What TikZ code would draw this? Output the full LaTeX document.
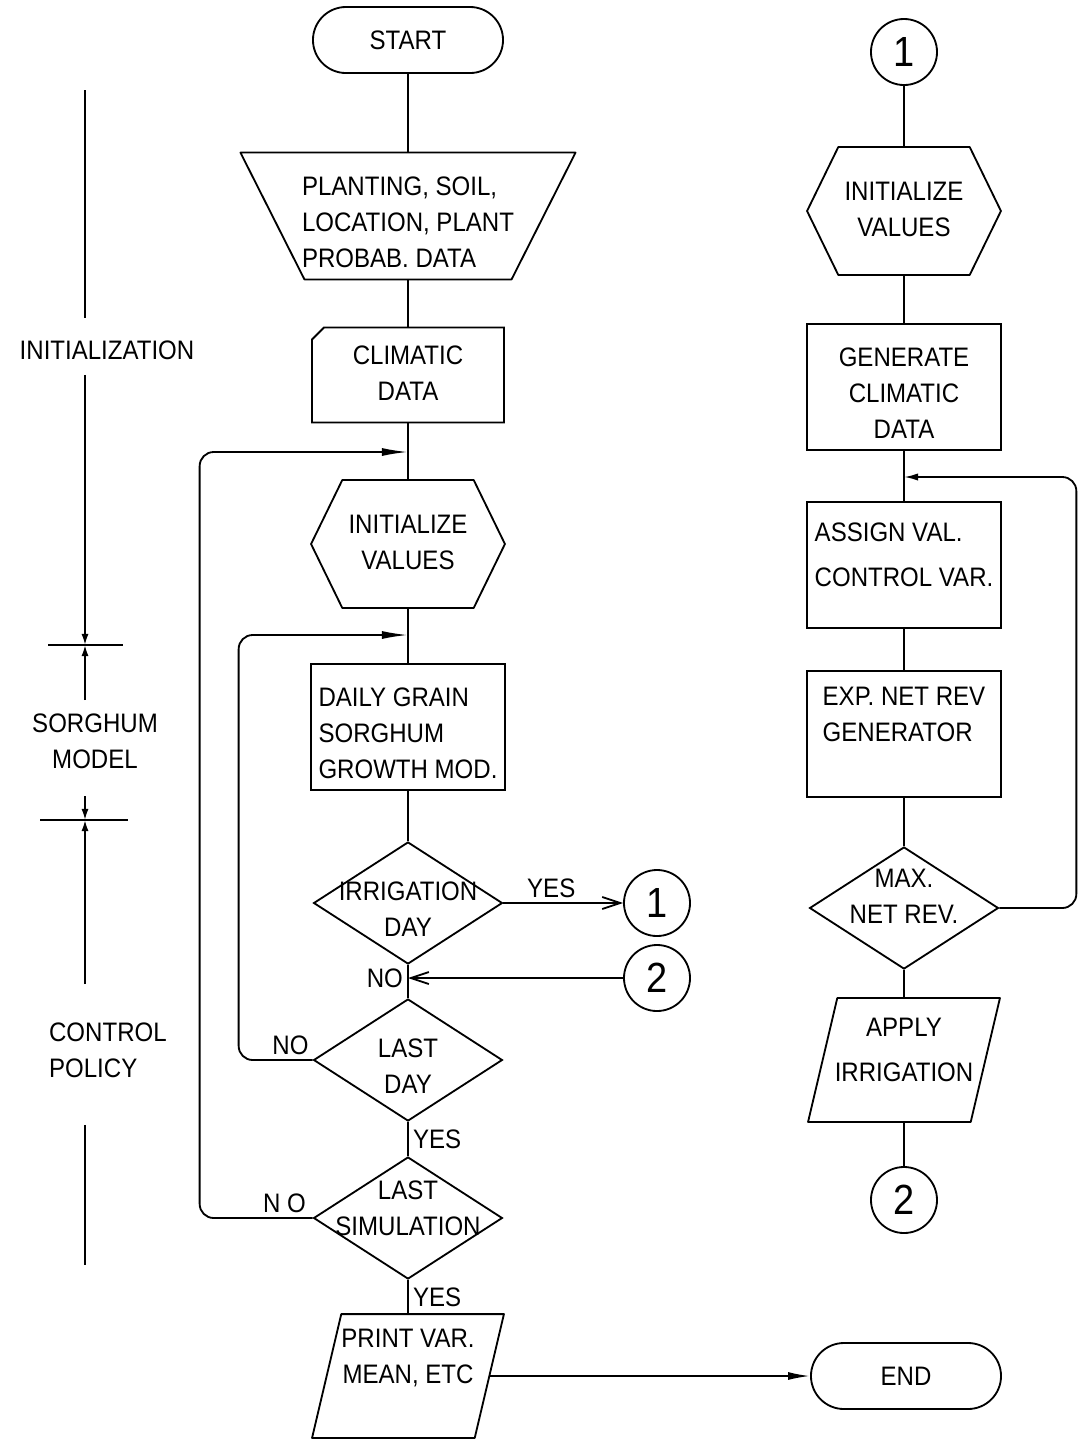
\documentclass[tikz,border=0pt]{standalone}
\usepackage{fontspec}
\setmainfont{Liberation Sans}[FakeStretch=0.9]
\usetikzlibrary{shapes.geometric,shapes.misc,arrows.meta}

\tikzset{quad/.style n args={4}{append after command={\pgfextra{\draw[line join=round]
      ([xshift=#1]\tikzlastnode.north west) -- ([xshift=#2]\tikzlastnode.north east)
      -- ([xshift=#3]\tikzlastnode.south east) -- ([xshift=#4]\tikzlastnode.south west) -- cycle;}}}}
\tikzstyle{terminal}=[draw,rounded rectangle,minimum width=4.75cm,minimum height=1.65cm,inner sep=0pt]
\tikzstyle{indata}=[minimum width=8.33cm,minimum height=3.125cm,inner sep=0pt,quad={0cm}{0cm}{-1.6cm}{1.6cm}]
\tikzstyle{card}=[draw,chamfered rectangle,chamfered rectangle corners=north west,chamfered rectangle sep=0.3cm,minimum width=4.8cm,minimum height=2.375cm,inner sep=0pt]
\tikzstyle{hexa}=[minimum width=4.8cm,minimum height=3.15cm,inner sep=0pt,
    append after command={\pgfextra{\draw[line join=round]
      ([xshift=0.78cm]\tikzlastnode.north west) -- ([xshift=-0.78cm]\tikzlastnode.north east)
      -- (\tikzlastnode.east) -- ([xshift=-0.78cm]\tikzlastnode.south east)
      -- ([xshift=0.78cm]\tikzlastnode.south west) -- (\tikzlastnode.west) -- cycle;}}]
\tikzstyle{procbox}=[draw,rectangle,minimum width=4.85cm,minimum height=3.15cm,inner sep=0pt]
\tikzstyle{decision}=[draw,diamond,aspect=1.55,minimum width=4.72cm,minimum height=3.05cm,inner sep=0pt]
\tikzstyle{iobox}=[minimum width=4.75cm,minimum height=3.05cm,inner sep=0pt,quad={0.73cm}{0cm}{-0.73cm}{0cm}]
\tikzstyle{conn}=[draw,circle,minimum size=1.65cm,inner sep=0pt,font=\fontsize{30}{30}\selectfont]
\tikzstyle{lbl}=[inner sep=3pt]
\tikzstyle{flow}=[draw,-]
\tikzstyle{back}=[draw,rounded corners=0.35cm,-{Latex[length=0.65cm,width=0.2cm]}]
\tikzstyle{dim}=[draw,-{Latex[length=0.28cm,width=0.18cm]}]
\tikzstyle{thin}=[draw,-{Straight Barb[length=0.45cm,width=0.3cm]}]
\newcommand{\slim}[2][c]{\makebox[0pt]{\begin{tabular}{@{}#1@{}}#2\end{tabular}}}

\begin{document}
\begin{tikzpicture}[x=0.025cm, y=-0.025cm, line width=1.3pt, font=\fontsize{19}{25.6}\selectfont]
    \useasboundingbox (0,0) rectangle (1078,1443);
    % Main program, left column
    \node[terminal] (start) at (408,40) {START};
    \node[indata] (indata) at (408,216) {\slim[l]{\mbox{}\\[-14pt]PLANTING, SOIL,\\LOCATION, PLANT\\PROBAB. DATA}};
    \node[card] (climate) at (408,375) {\slim{CLIMATIC\\DATA}};
    \node[hexa] (initval) at (408,544) {\slim{INITIALIZE\\VALUES}};
    \node[procbox] (growth) at (408,727) {\slim[l]{\mbox{}\\[-14pt]DAILY GRAIN\\SORGHUM\\GROWTH MOD.}};
    \node[decision] (irrday) at (408,903) {\slim{\mbox{}\\[-14pt]IRRIGATION\\DAY}};
    \node[decision] (lastday) at (408,1060) {\slim{\mbox{}\\[-14pt]LAST\\DAY}};
    \node[decision] (lastsim) at (408,1218) {\slim{LAST\\SIMULATION\\[-14pt]\mbox{}}};
    \node[iobox] (print) at (408,1376) {\slim{PRINT VAR.\\MEAN, ETC\\\mbox{}}};
    \node[terminal] (stop) at (906,1376) {END};
    \node[conn] (outa) at (657,903) {1};
    \node[conn] (ina) at (657,978) {2};

    % Irrigation subroutine, right column
    \node[conn] (outb) at (904,52) {1};
    \node[hexa] (initb) at (904,211) {\slim{INITIALIZE\\VALUES}};
    \node[procbox] (gen) at (904,387) {\slim{\mbox{}\\[-14pt]GENERATE\\CLIMATIC\\DATA}};
    \node[procbox] (assign) at (904,565) {\slim[l]{ASSIGN VAL.\\[6pt]CONTROL VAR.\\[-14pt]\mbox{}}};
    \node[procbox] (exprev) at (904,734) {\slim[l]{EXP. NET REV\\GENERATOR\\\mbox{}}};
    \node[decision] (maxrev) at (904,908) {\slim{MAX.\\NET REV.\\[-11.6pt]\mbox{}}};
    \node[iobox] (apply) at (904,1060) {\slim{APPLY\\[6pt]IRRIGATION\\[-14pt]\mbox{}}};
    \node[conn] (inb) at (904,1200) {2};

    % Junctions on the main lines
    \coordinate (ja) at (408,452);
    \coordinate (jb) at (408,635);
    \coordinate (jc) at (408,978);
    \coordinate (jd) at (904,477);

    % Straight connectors
    \foreach \source/\dest in {start/indata, indata/climate, climate/initval, initval/growth,
        growth/irrday, irrday/lastday, outb/initb, initb/gen, gen/assign, assign/exprev,
        exprev/maxrev, maxrev/apply, apply/inb}
        \path[flow] (\source) -- (\dest);
    \path[flow] (lastday) -- node[lbl,right] {YES} (lastsim);
    \path[flow] (lastsim) -- node[lbl,right] {YES} (print);
    \path[thin] (irrday) -- node[lbl,above,pos=0.4] {YES} (outa);
    \path[thin] (ina) -- (jc) node[lbl,left] {NO};
    \path[flow,-{Latex[length=0.55cm,width=0.2cm]}] ([xshift=-0.36cm]print.east) -- (stop);

    % Loops back
    \path[back] (lastsim.west) -- node[lbl,above,pos=0.25] {N O} ++(-113,0) |- (ja);
    \path[back] (lastday.west) -- node[lbl,above,pos=0.3] {NO} ++(-74,0) |- (jb);
    \path[back,-{Latex[length=0.35cm,width=0.18cm]}] (maxrev.east) -- ++(77,0) |- (jd);

    % Sections on the left
    \node[lbl] (initlbl) at (107,350) {INITIALIZATION};
    \node[lbl,align=center] (sorglbl) at (95,741) {SORGHUM\\MODEL};
    \node[lbl,align=left,anchor=west] (ctrllbl) at (44,1050) {CONTROL\\POLICY};
    \coordinate (secttop) at (85,90);
    \coordinate (tka) at (85,645);
    \coordinate (tkb) at (85,820);
    \coordinate (sectbot) at (85,1265);
    \path[flow] (secttop) -- ([yshift=-5.7cm]secttop);
    \path[dim] ([yshift=6.75cm]tka) -- (tka);
    \path[dim] ([yshift=-1.375cm]tka) -- (tka);
    \path[dim] ([yshift=0.6cm]tkb) -- (tkb);
    \path[dim] ([yshift=-4.1cm]tkb) -- (tkb);
    \path[flow] ([yshift=3.5cm]sectbot) -- (sectbot);
    \path[flow,line width=0.8pt] ([xshift=-0.92cm]tka) -- ([xshift=0.95cm]tka);
    \path[flow,line width=0.8pt] ([xshift=-1.12cm]tkb) -- ([xshift=1.08cm]tkb);
\end{tikzpicture}
\end{document}
